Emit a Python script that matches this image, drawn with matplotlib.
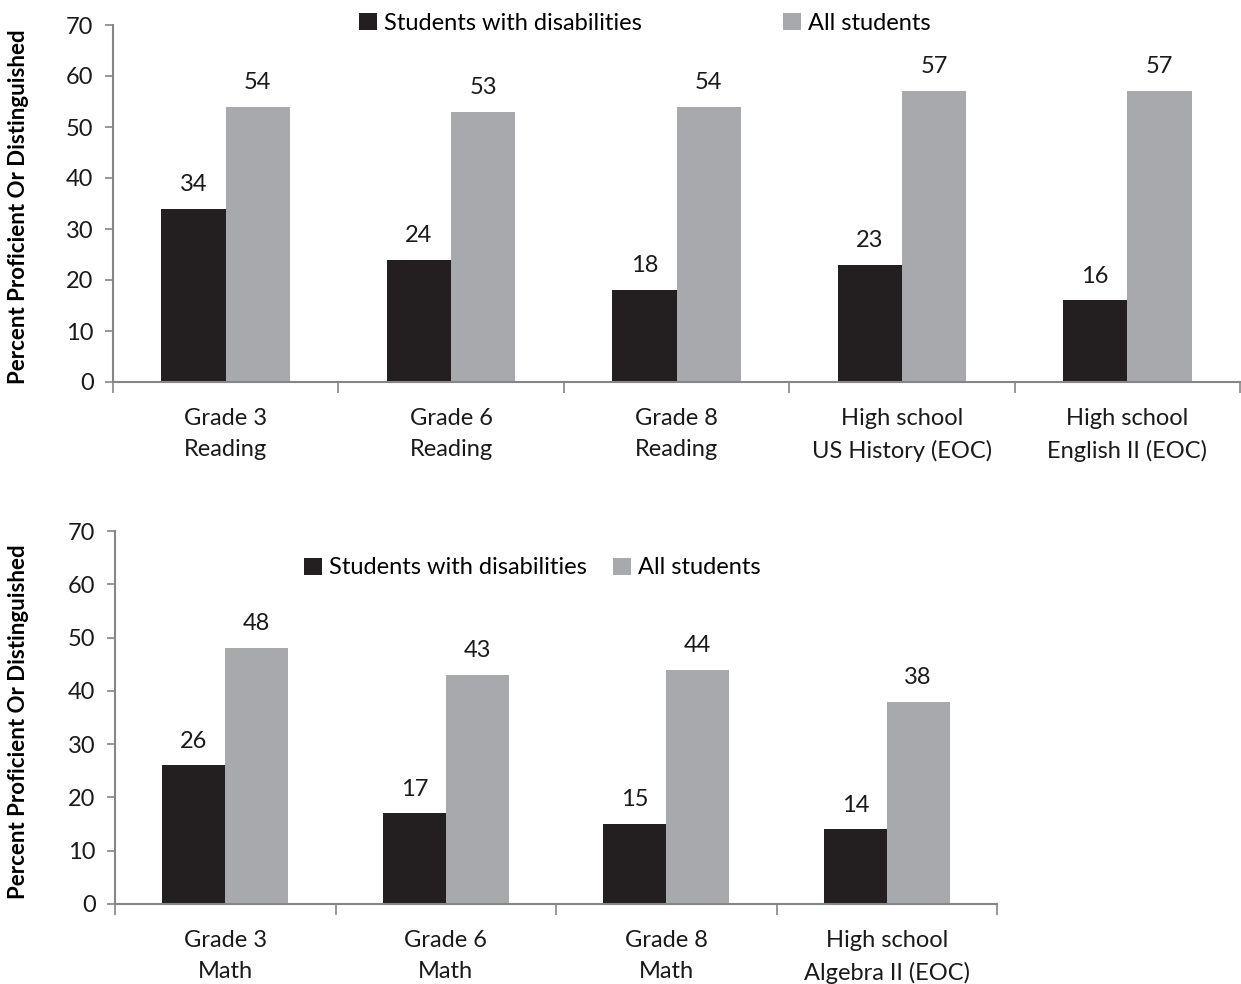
import matplotlib
matplotlib.use("Agg")
import matplotlib.pyplot as plt
import numpy as np

plt.rcParams['font.family'] = ['Lato', 'DejaVu Sans']

top_categories = ["Grade 3\nReading", "Grade 6\nReading", "Grade 8\nReading",
                  "High school\nUS History (EOC)", "High school\nEnglish II (EOC)"]
top_swd = [34, 24, 18, 23, 16]
top_all = [54, 53, 54, 57, 57]

bot_categories = ["Grade 3\nMath", "Grade 6\nMath", "Grade 8\nMath",
                  "High school\nAlgebra II (EOC)"]
bot_swd = [26, 17, 15, 14]
bot_all = [48, 43, 44, 38]

series_names = ["Students with disabilities", "All students"]
yticks = [0, 10, 20, 30, 40, 50, 60, 70]

DARK = "#231f20"
GRAY = "#a7a9ac"
SPINE = "#868686"
TXT = "#1a1a1a"
FS = 17

W, H = 1241, 984
fig = plt.figure(figsize=(W / 100, H / 100), dpi=100)


def px_axes(l, r, t, b):
    return fig.add_axes([l / W, 1 - b / H, (r - l) / W, (b - t) / H])


def draw(ax, cats, swd, allv, legend_anchor, legend_gap):
    n = len(cats)
    x = np.arange(n)
    bw = 0.285
    b1 = ax.bar(x - bw / 2, swd, bw, color=DARK, label=series_names[0])
    b2 = ax.bar(x + bw / 2, allv, bw, color=GRAY, label=series_names[1])
    for bars, vals in ((b1, swd), (b2, allv)):
        for rect, v in zip(bars, vals):
            ax.annotate(f"{v}", (rect.get_x() + rect.get_width() / 2, v),
                        xytext=(0, 10), textcoords="offset points",
                        ha="center", va="bottom", fontsize=FS, color=TXT)
    ax.set_xlim(-0.5, n - 0.5)
    ax.set_ylim(0, 70)
    ax.set_yticks(yticks)
    ax.tick_params(axis="y", labelsize=FS, colors=SPINE, labelcolor=TXT,
                   length=6, width=1.2, direction="out", pad=8)
    ax.set_xticks(np.arange(n + 1) - 0.5)
    ax.set_xticklabels([])
    ax.set_xticks(x, minor=True)
    ax.set_xticklabels(cats, minor=True, fontsize=FS, color=TXT, linespacing=1.6)
    ax.tick_params(axis="x", which="major", length=8, width=1.2, colors=SPINE,
                   direction="out")
    ax.tick_params(axis="x", which="minor", length=0, pad=18.5)
    for s in ("top", "right"):
        ax.spines[s].set_visible(False)
    for s in ("left", "bottom"):
        ax.spines[s].set_color(SPINE)
        ax.spines[s].set_linewidth(1.5)
    ax.set_ylabel("Percent Proficient Or Distinguished", fontsize=16,
                  fontweight="bold", color="black")
    ax.legend(loc="center left", bbox_to_anchor=legend_anchor, ncol=2,
              frameon=False, fontsize=FS, handlelength=0.75,
              handleheight=0.75, handletextpad=0.3,
              columnspacing=legend_gap, borderaxespad=0)
    return ax


ax1 = px_axes(113, 1240, 25, 382)
draw(ax1, top_categories, top_swd, top_all, (0.210, 1.005), 6.0)
ax1.yaxis.set_label_coords(-0.0745, 0.49)

ax2 = px_axes(115, 997, 531, 904)
draw(ax2, bot_categories, bot_swd, bot_all, (0.204, 0.901), 1.1)
ax2.yaxis.set_label_coords(-0.0975, 0.49)

fig.savefig("out.png", dpi=100)
